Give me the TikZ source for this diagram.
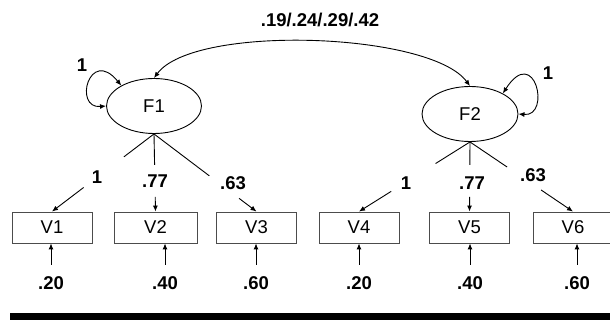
\documentclass[tikz,border=0pt]{standalone}
\usepackage{fontspec}
\setmainfont{Liberation Sans}
\usetikzlibrary{arrows.meta,shapes.geometric,calc}

\begin{document}
\begin{tikzpicture}[x=1pt,y=-1pt,
	font=\fontsize{18.5}{22}\selectfont,
	line width=0.9pt,
	>={Latex[length=6pt,width=5pt]},
	factor/.style={draw,ellipse,minimum width=95pt,minimum height=55pt,inner sep=0pt},
	obs/.style={draw=black!70,minimum width=80pt,minimum height=31pt,inner sep=0pt},
	lbl/.style={font=\fontsize{18.5}{22}\selectfont\bfseries,inner sep=1pt}]
	\useasboundingbox (0,0) rectangle (610,320);
	\node[factor] at (154,106) (F1) {F1};
	\node[factor,minimum width=96pt] at (470,114) (F2) {F2};
	\draw[<->] (F1.north) .. controls +(40,-54) and +(-40,-54) .. (F2.north);
	\node[lbl] at (320,20) (cov) {.19/.24/.29/.42};
	\draw[<->] (F1.180) .. controls +(-33,3) and +(-32,-39) .. (F1.148);
	\node[lbl] at (82,65) (v1) {1};
	\draw[<->] (F2.0) .. controls +(33,3) and +(32,-50) .. (F2.32);
	\node[lbl] at (548,73) (v2) {1};
	\node[obs] at (52,227.5) (V1) {V1};
	\node[obs,minimum width=83pt] at (155.5,227.5) (V2) {V2};
	\node[obs] at (256.5,227.5) (V3) {V3};
	\node[obs] at (359,227.5) (V4) {V4};
	\node[obs] at (469.5,227.5) (V5) {V5};
	\node[obs] at (573,227.5) (V6) {V6};
	\draw (F1.south) -- ($(F1.south)!.295!(V1.north)$);
	\draw[->] ($(F1.south)!.69!(V1.north)$) -- (V1.north);
	\node[lbl] at (97,177) (l1) {1};
	\draw (F1.south) -- ($(F1.south)!.40!(V2.north)$);
	\draw[->] ($(F1.south)!.81!(V2.north)$) -- (V2.north);
	\node[lbl] at (155,181) (l2) {.77};
	\draw (F1.south) -- ($(F1.south)!.54!(V3.north)$);
	\draw[->] ($(F1.south)!.83!(V3.north)$) -- (V3.north);
	\node[lbl] at (233,183) (l3) {.63};
	\draw (F2.south) -- ($(F2.south)!.31!(V4.north)$);
	\draw[->] ($(F2.south)!.71!(V4.north)$) -- (V4.north);
	\node[lbl] at (406,183) (l4) {1};
	\draw (F2.south) -- ($(F2.south)!.33!(V5.north)$);
	\draw[->] ($(F2.south)!.79!(V5.north)$) -- (V5.north);
	\node[lbl] at (472,183) (l5) {.77};
	\draw (F2.south) -- ($(F2.south)!.36!(V6.north)$);
	\draw[->] ($(F2.south)!.69!(V6.north)$) -- (V6.north);
	\node[lbl] at (533,175) (l6) {.63};
	% error variances
	\node[lbl] at (51,283) (e1) {.20};
	\node[lbl] at (165,283) (e2) {.40};
	\node[lbl] at (256,283) (e3) {.60};
	\node[lbl] at (359,283) (e4) {.20};
	\node[lbl] at (470,283) (e5) {.40};
	\node[lbl] at (577,283) (e6) {.60};
	\draw[->] ($(e1)+(0,-18)$) -- (e1 |- V1.south);
	\draw[->] ($(e2)+(0,-18)$) -- (e2 |- V2.south);
	\draw[->] ($(e3)+(0,-18)$) -- (e3 |- V3.south);
	\draw[->] ($(e4)+(0,-18)$) -- (e4 |- V4.south);
	\draw[->] ($(e5)+(0,-18)$) -- (e5 |- V5.south);
	\draw[->] ($(e6)+(0,-18)$) -- (e6 |- V6.south);
	\fill (10,313) rectangle (610,320);
\end{tikzpicture}
\end{document}
